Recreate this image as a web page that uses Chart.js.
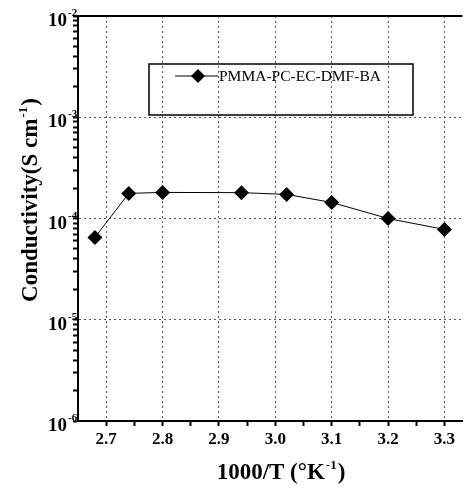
<!DOCTYPE html>
<html>
<head>
<meta charset="utf-8">
<script src="https://cdn.jsdelivr.net/npm/chart.js@4/dist/chart.umd.min.js"></script>
<style>
  html, body { margin: 0; padding: 0; background: #fff; }
  #wrap { width: 470px; height: 488px; position: relative; }
</style>
</head>
<body>
<div id="wrap"><canvas id="myChart"></canvas></div>
<script>
// values
var seriesLabel = 'PMMA-PC-EC-DMF-BA';
var invTemp = [2.68, 2.74, 2.80, 2.94, 3.02, 3.10, 3.20, 3.30];
var conductivity = [6.5e-5, 1.77e-4, 1.81e-4, 1.80e-4, 1.73e-4, 1.44e-4, 1.0e-4, 7.8e-5];

// axes
var xMajorTicks = [2.7, 2.8, 2.9, 3.0, 3.1, 3.2, 3.3];
var xMinorTicks = [2.75, 2.85, 2.95, 3.05, 3.15, 3.25];
var yExponents = [-6, -5, -4, -3, -2];
var xTitle = ['1000/T (\u00b0K', '-1', ')'];
var yTitle = ['Conductivity(S cm', '-1', ')'];

var serif = "'Liberation Serif', 'Times New Roman', serif";

function isMajorY(v) {
	var e = Math.log10(v);
	return Math.abs(e - Math.round(e)) < 1e-9;
}

function isMajorX(v) {
	return xMajorTicks.some(function (t) { return Math.abs(t - v) < 1e-9; });
}

// draw text made of [main, superscript, main] parts, centred on x
function drawSupText(ctx, parts, x, y, size) {
	var big = 'bold ' + size + 'px ' + serif;
	var small = 'bold ' + Math.round(size * 0.55) + 'px ' + serif;
	ctx.font = big;
	var w0 = ctx.measureText(parts[0]).width;
	var w2 = ctx.measureText(parts[2]).width;
	ctx.font = small;
	var w1 = ctx.measureText(parts[1]).width;
	var start = x - (w0 + w1 + w2) / 2;
	ctx.textAlign = 'left';
	ctx.textBaseline = 'alphabetic';
	ctx.font = big;
	ctx.fillText(parts[0], start, y);
	ctx.font = small;
	ctx.fillText(parts[1], start + w0 + 1, y - size * 0.42);
	ctx.font = big;
	ctx.fillText(parts[2], start + w0 + w1 + 2, y);
}

var extras = {
	id: 'extras',
	afterDraw: function (chart) {
		var ctx = chart.ctx;
		var area = chart.chartArea;
		var ys = chart.scales.y;
		ctx.save();
		ctx.fillStyle = '#000';
		ctx.strokeStyle = '#000';

		// top frame line
		ctx.lineWidth = 2;
		ctx.beginPath();
		ctx.moveTo(area.left - 1, area.top);
		ctx.lineTo(area.right, area.top);
		ctx.stroke();

		// y tick labels 10^n
		yExponents.forEach(function (e) {
			var py = ys.getPixelForValue(Math.pow(10, e));
			ctx.textAlign = 'right';
			ctx.textBaseline = 'alphabetic';
			ctx.font = 'bold 19px ' + serif;
			ctx.fillText('10', 67, py + 10);
			ctx.textAlign = 'left';
			ctx.font = 'bold 11px ' + serif;
			ctx.fillText('-' + Math.abs(e), 68, py);
		});

		// axis titles
		drawSupText(ctx, xTitle, 280, 479, 23);
		ctx.save();
		ctx.translate(37, 201);
		ctx.rotate(-Math.PI / 2);
		drawSupText(ctx, yTitle, 0, 0, 23);
		ctx.restore();

		// legend box
		ctx.lineWidth = 1.5;
		ctx.strokeRect(149, 64, 264, 51);
		ctx.lineWidth = 1;
		ctx.beginPath();
		ctx.moveTo(175, 76);
		ctx.lineTo(218, 76);
		ctx.stroke();
		ctx.beginPath();
		ctx.moveTo(198 - 7, 76);
		ctx.lineTo(198, 76 - 7);
		ctx.lineTo(198 + 7, 76);
		ctx.lineTo(198, 76 + 7);
		ctx.closePath();
		ctx.fill();
		ctx.font = '15.5px ' + serif;
		ctx.textAlign = 'left';
		ctx.textBaseline = 'middle';
		ctx.fillText(chart.data.datasets[0].label, 219, 77);
		ctx.restore();
	}
};

var points = invTemp.map(function (x, i) { return { x: x, y: conductivity[i] }; });

var ctx = document.getElementById('myChart').getContext('2d');
var myChart = new Chart(ctx, {
	type: 'line',
	data: {
		datasets: [{
			label: seriesLabel,
			data: points,
			borderColor: '#000',
			borderWidth: 1,
			tension: 0,
			pointStyle: 'rectRot',
			pointRadius: 7.5,
			pointBackgroundColor: '#000',
			pointBorderWidth: 0,
			clip: false
		}]
	},
	plugins: [extras],
	options: {
		responsive: true,
		maintainAspectRatio: false,
		animation: false,
		layout: { padding: { top: 16, right: 0, left: 0, bottom: 0 } },
		plugins: {
			legend: { display: false },
			tooltip: { enabled: false }
		},
		scales: {
			x: {
				type: 'linear',
				min: 2.65,
				max: 3.332,
				afterBuildTicks: function (scale) {
					scale.ticks = xMajorTicks.concat(xMinorTicks)
						.sort(function (a, b) { return a - b; })
						.map(function (v) { return { value: v }; });
				},
				afterFit: function (scale) { scale.height = 67; },
				border: { display: true, color: '#000', width: 2, dash: [2, 3] },
				grid: {
					color: function (c) { return c.tick && isMajorX(c.tick.value) ? '#555' : 'rgba(0,0,0,0)'; },
					lineWidth: 1,
					tickColor: '#000',
					tickWidth: 2,
					tickLength: 5
				},
				ticks: {
					autoSkip: false,
					maxRotation: 0,
					padding: 3,
					color: '#000',
					font: { family: serif, size: 17, weight: 'bold' },
					callback: function (v) { return isMajorX(v) ? Number(v).toFixed(1) : ''; }
				}
			},
			y: {
				type: 'logarithmic',
				min: 1e-6,
				max: 1e-2,
				afterBuildTicks: function (scale) {
					var t = [];
					yExponents.forEach(function (e) {
						for (var m = 1; m <= 9; m++) {
							var v = m * Math.pow(10, e);
							if (v <= 1e-2 * 1.0000001) t.push({ value: v });
						}
					});
					scale.ticks = t;
				},
				afterFit: function (scale) { scale.width = 78; },
				border: { display: true, color: '#000', width: 2, dash: [2, 3] },
				grid: {
					color: function (c) { return c.tick && isMajorY(c.tick.value) ? '#555' : 'rgba(0,0,0,0)'; },
					lineWidth: 1,
					tickColor: '#000',
					tickWidth: 2,
					tickLength: 5
				},
				ticks: { display: false }
			}
		}
	}
});
</script>
</body>
</html>
